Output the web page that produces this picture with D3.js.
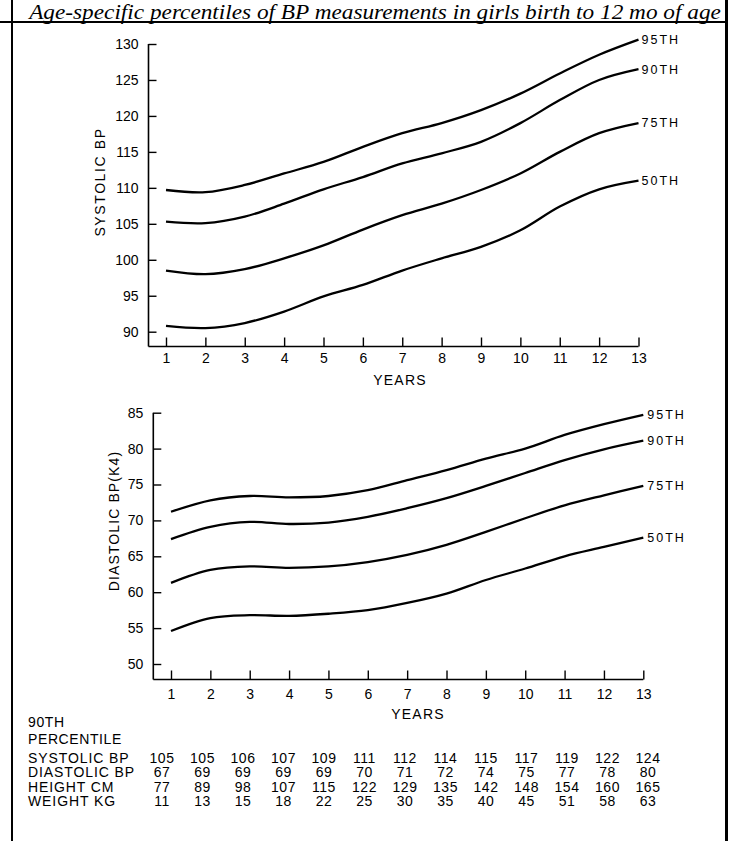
<!DOCTYPE html>
<html>
<head>
<meta charset="utf-8">
<script src="https://cdn.jsdelivr.net/npm/d3@7"></script>
<style>
  html, body { margin: 0; padding: 0; background: #fff; }
  svg { display: block; }
  text { font-family: "Liberation Sans", Arial, Helvetica, sans-serif; fill: #000; }
</style>
</head>
<body>
<svg id="chart" width="731" height="841"></svg>
<script>
// ---------- DATA ----------
const titleText = "Age-specific percentiles of BP measurements in girls birth to 12 mo of age";
const years = [1, 2, 3, 4, 5, 6, 7, 8, 9, 10, 11, 12, 13];
const percentileNames = ["95TH", "90TH", "75TH", "50TH"];

const systolicTicks = [90, 95, 100, 105, 110, 115, 120, 125, 130];
const sys95 = [109.7, 109.4, 110.4, 112.0, 113.6, 115.7, 117.6, 119.0, 120.8, 123.1, 125.9, 128.5, 130.6];
const sys90 = [105.3, 105.1, 106.0, 107.8, 109.8, 111.5, 113.4, 114.8, 116.4, 119.0, 122.2, 125.0, 126.5];
const sys75 = [98.5, 98.0, 98.7, 100.2, 102.0, 104.2, 106.2, 107.8, 109.7, 112.0, 115.0, 117.6, 119.0];
const sys50 = [90.8, 90.5, 91.2, 92.8, 94.9, 96.5, 98.5, 100.2, 101.8, 104.1, 107.4, 109.8, 111.0];

const diastolicTicks = [50, 55, 60, 65, 70, 75, 80, 85];
const dia95 = [71.2, 72.8, 73.4, 73.2, 73.4, 74.2, 75.6, 77.0, 78.6, 80.0, 81.9, 83.4, 84.7];
const dia90 = [67.4, 69.1, 69.8, 69.5, 69.7, 70.5, 71.7, 73.1, 74.8, 76.6, 78.4, 79.9, 81.1];
const dia75 = [61.3, 63.1, 63.6, 63.4, 63.6, 64.2, 65.2, 66.6, 68.4, 70.3, 72.1, 73.5, 74.8];
const dia50 = [54.6, 56.4, 56.8, 56.7, 57.0, 57.5, 58.5, 59.8, 61.7, 63.3, 65.0, 66.3, 67.6];

const tableHeader = ["90TH", "PERCENTILE"];
const tableRowLabels = ["SYSTOLIC BP", "DIASTOLIC BP", "HEIGHT CM", "WEIGHT KG"];
const tSystolic = [105, 105, 106, 107, 109, 111, 112, 114, 115, 117, 119, 122, 124];
const tDiastolic = [67, 69, 69, 69, 69, 70, 71, 72, 74, 75, 77, 78, 80];
const tHeight = [77, 89, 98, 107, 115, 122, 129, 135, 142, 148, 154, 160, 165];
const tWeight = [11, 13, 15, 18, 22, 25, 30, 35, 40, 45, 51, 58, 63];

// ---------- DRAW ----------
const svg = d3.select("#chart");

// frame
svg.append("line").attr("x1", 12).attr("x2", 12).attr("y1", 0).attr("y2", 841)
  .attr("stroke", "#000").attr("stroke-width", 2);
svg.append("line").attr("x1", 726.5).attr("x2", 726.5).attr("y1", 0).attr("y2", 841)
  .attr("stroke", "#000").attr("stroke-width", 3);
svg.append("line").attr("x1", 0).attr("x2", 727).attr("y1", 22).attr("y2", 22)
  .attr("stroke", "#000").attr("stroke-width", 2);

// title, stretched horizontally to the reference width
const titleG = svg.append("g");
const title = titleG.append("text")
  .attr("x", 0).attr("y", 0)
  .attr("text-anchor", "middle")
  .style("font-family", '"Liberation Serif", "Times New Roman", serif')
  .style("font-style", "italic")
  .style("font-size", "21px")
  .text(titleText);
const tw = title.node().getComputedTextLength();
const sx = 692 / tw;
titleG.attr("transform", `translate(375,18.5) scale(${sx.toFixed(3)},1)`);

function drawPanel(cfg) {
  const g = svg.append("g");
  const x = d3.scaleLinear().domain([1, 13]).range(cfg.xRange);
  const y = d3.scaleLinear().domain(cfg.yDomain).range(cfg.yRange);

  // axis lines
  g.append("line").attr("x1", cfg.axisX).attr("x2", cfg.axisX)
    .attr("y1", y(cfg.yDomain[1])).attr("y2", cfg.axisY)
    .attr("stroke", "#000").attr("stroke-width", 1.6);
  g.append("line").attr("x1", cfg.axisX).attr("x2", x(13))
    .attr("y1", cfg.axisY).attr("y2", cfg.axisY)
    .attr("stroke", "#000").attr("stroke-width", 1.6);

  // y axis ticks (inward)
  const ya = g.append("g").attr("transform", `translate(${cfg.axisX},0)`)
    .call(d3.axisLeft(y).tickValues(cfg.yTicks).tickSize(-8).tickSizeOuter(0).tickPadding(10));
  ya.select(".domain").remove();
  ya.selectAll(".tick line").attr("stroke", "#000").attr("stroke-width", 1.4);
  ya.selectAll(".tick text").style("font-size", "14px").style("font-family", '"Liberation Sans", Arial, sans-serif').attr("fill", "#000");

  // x axis ticks (upward)
  const xa = g.append("g").attr("transform", `translate(0,${cfg.axisY})`)
    .call(d3.axisBottom(x).tickValues(years).tickSize(-9).tickSizeOuter(0).tickPadding(cfg.xPad).tickFormat(d3.format("d")));
  xa.select(".domain").remove();
  xa.selectAll(".tick line").attr("stroke", "#000").attr("stroke-width", 1.4);
  xa.selectAll(".tick text").style("font-size", "14px").style("font-family", '"Liberation Sans", Arial, sans-serif').attr("fill", "#000");

  // x title
  g.append("text").attr("x", cfg.yearsX).attr("y", cfg.yearsY)
    .attr("text-anchor", "middle").style("font-size", "14px").style("letter-spacing", "1.2px")
    .text("YEARS");

  // y title
  g.append("text")
    .attr("transform", `translate(${cfg.yTitleX},${cfg.yTitleY}) rotate(-90)`)
    .attr("text-anchor", "middle").attr("dy", "0.35em")
    .style("font-size", "14px").style("letter-spacing", cfg.yTitleSpacing)
    .text(cfg.yTitle);

  // curves
  const line = d3.line().x((d, i) => x(years[i])).y(d => y(d)).curve(d3.curveCatmullRom.alpha(0.5));
  cfg.series.forEach((s, k) => {
    g.append("path").attr("d", line(s)).attr("fill", "none")
      .attr("stroke", "#000").attr("stroke-width", 2.3);
    g.append("text").attr("x", x(13) + cfg.labelDx).attr("y", y(s[s.length - 1]))
      .attr("dy", "0.35em").style("font-size", "12.5px").style("letter-spacing", "2px")
      .text(percentileNames[k]);
  });
}

drawPanel({
  xRange: [166, 638.5], yDomain: [90, 130], yRange: [331.7, 44],
  axisX: 148.5, axisY: 346.5, xPad: 7, yTicks: systolicTicks,
  yearsX: 400, yearsY: 385, yTitle: "SYSTOLIC BP", yTitleX: 100, yTitleY: 182, yTitleSpacing: "1.6px",
  series: [sys95, sys90, sys75, sys50], labelDx: 3
});

drawPanel({
  xRange: [171, 643.3], yDomain: [50, 85], yRange: [664, 412.7],
  axisX: 153.3, axisY: 679.5, xPad: 10, yTicks: diastolicTicks,
  yearsX: 418, yearsY: 719, yTitle: "DIASTOLIC BP(K4)", yTitleX: 114, yTitleY: 521, yTitleSpacing: "1.1px",
  series: [dia95, dia90, dia75, dia50], labelDx: 4
});

// table
const xt = d3.scaleLinear().domain([1, 13]).range([162, 648]);
const rowY = [758, 772.5, 787, 801.5];
const tg = svg.append("g").style("font-size", "14px");
tg.append("text").attr("x", 28).attr("y", 722).attr("dy", "0.35em").style("letter-spacing", "0.6px").text(tableHeader[0]);
tg.append("text").attr("x", 28).attr("y", 739).attr("dy", "0.35em").style("letter-spacing", "0.6px").text(tableHeader[1]);
const tableRows = [tSystolic, tDiastolic, tHeight, tWeight];
tableRows.forEach((row, r) => {
  tg.append("text").attr("x", 28).attr("y", rowY[r]).attr("dy", "0.35em")
    .style("letter-spacing", "0.9px").text(tableRowLabels[r]);
  tg.selectAll(null).data(row).enter().append("text")
    .attr("x", (d, i) => xt(years[i])).attr("y", rowY[r]).attr("dy", "0.35em")
    .attr("text-anchor", "middle").style("letter-spacing", "0.5px")
    .text(d => d);
});
</script>
</body>
</html>
